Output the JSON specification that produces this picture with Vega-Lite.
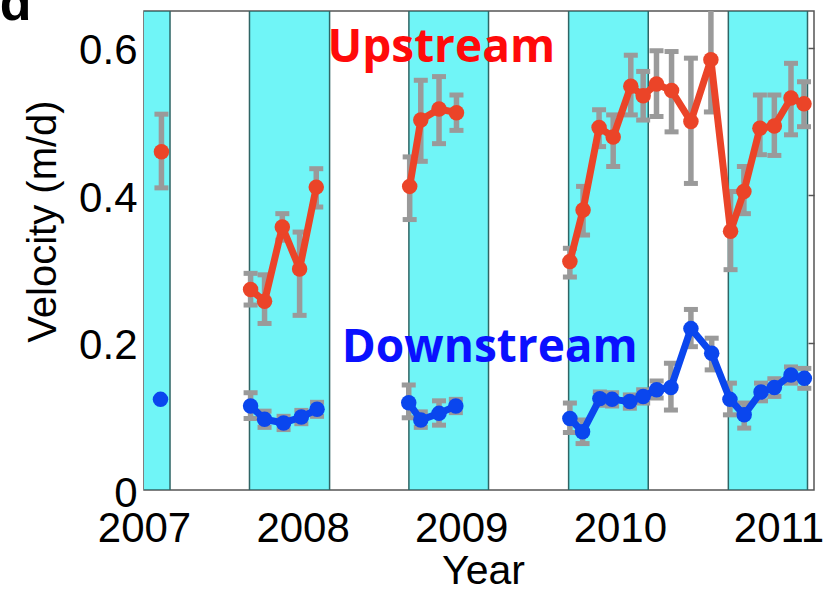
{
  "$schema": "https://vega.github.io/schema/vega-lite/v6.json",
  "width": 670,
  "height": 479,
  "autosize": {"type": "none"},
  "padding": {"left": 144, "top": 11, "right": 15, "bottom": 99},
  "config": {
    "view": {"stroke": "#555555", "strokeWidth": 1.5},
    "axis": {
      "labelFont": "Liberation Sans",
      "titleFont": "Liberation Sans",
      "labelFontSize": 42,
      "titleFontSize": 40,
      "labelColor": "#000000",
      "titleColor": "#000000",
      "titleFontWeight": "normal",
      "grid": false,
      "domain": false,
      "labelFlush": false,
      "labelOverlap": false
    }
  },
  "datasets": {
    "bands": [
      {"s": 2006.667, "e": 2007.164},
      {"s": 2007.665, "e": 2008.17},
      {"s": 2008.67, "e": 2009.172},
      {"s": 2009.677, "e": 2010.179},
      {"s": 2010.684, "e": 2011.183}
    ],
    "vel": [
      {"series": "Upstream", "season": "2007", "t": 2007.110, "v": 0.459, "lo": 0.410, "hi": 0.510},
      {"series": "Upstream", "season": "2008", "t": 2007.672, "v": 0.272, "lo": 0.251, "hi": 0.294},
      {"series": "Upstream", "season": "2008", "t": 2007.760, "v": 0.256, "lo": 0.226, "hi": 0.292},
      {"series": "Upstream", "season": "2008", "t": 2007.872, "v": 0.357, "lo": 0.339, "hi": 0.375},
      {"series": "Upstream", "season": "2008", "t": 2007.981, "v": 0.300, "lo": 0.237, "hi": 0.350},
      {"series": "Upstream", "season": "2008", "t": 2008.086, "v": 0.411, "lo": 0.384, "hi": 0.436},
      {"series": "Upstream", "season": "2009", "t": 2008.675, "v": 0.412, "lo": 0.367, "hi": 0.452},
      {"series": "Upstream", "season": "2009", "t": 2008.745, "v": 0.502, "lo": 0.446, "hi": 0.556},
      {"series": "Upstream", "season": "2009", "t": 2008.860, "v": 0.517, "lo": 0.470, "hi": 0.561},
      {"series": "Upstream", "season": "2009", "t": 2008.970, "v": 0.512, "lo": 0.488, "hi": 0.536},
      {"series": "Upstream", "season": "2010", "t": 2009.685, "v": 0.310, "lo": 0.289, "hi": 0.328},
      {"series": "Upstream", "season": "2010", "t": 2009.768, "v": 0.380, "lo": 0.346, "hi": 0.412},
      {"series": "Upstream", "season": "2010", "t": 2009.869, "v": 0.492, "lo": 0.466, "hi": 0.516},
      {"series": "Upstream", "season": "2010", "t": 2009.958, "v": 0.479, "lo": 0.439, "hi": 0.509},
      {"series": "Upstream", "season": "2010", "t": 2010.069, "v": 0.548, "lo": 0.509, "hi": 0.590},
      {"series": "Upstream", "season": "2010", "t": 2010.147, "v": 0.535, "lo": 0.502, "hi": 0.568},
      {"series": "Upstream", "season": "2010", "t": 2010.231, "v": 0.551, "lo": 0.507, "hi": 0.596},
      {"series": "Upstream", "season": "2010", "t": 2010.326, "v": 0.542, "lo": 0.486, "hi": 0.595},
      {"series": "Upstream", "season": "2010", "t": 2010.448, "v": 0.500, "lo": 0.416, "hi": 0.586},
      {"series": "Upstream", "season": "2010", "t": 2010.574, "v": 0.584, "lo": 0.513, "hi": 0.700},
      {"series": "Upstream", "season": "2010", "t": 2010.698, "v": 0.351, "lo": 0.299, "hi": 0.405},
      {"series": "Upstream", "season": "2010", "t": 2010.782, "v": 0.405, "lo": 0.375, "hi": 0.439},
      {"series": "Upstream", "season": "2010", "t": 2010.883, "v": 0.491, "lo": 0.455, "hi": 0.536},
      {"series": "Upstream", "season": "2010", "t": 2010.974, "v": 0.494, "lo": 0.454, "hi": 0.536},
      {"series": "Upstream", "season": "2010", "t": 2011.079, "v": 0.532, "lo": 0.482, "hi": 0.579},
      {"series": "Upstream", "season": "2010", "t": 2011.161, "v": 0.524, "lo": 0.493, "hi": 0.554},
      {"series": "Downstream", "season": "2007", "t": 2007.104, "v": 0.123},
      {"series": "Downstream", "season": "2008", "t": 2007.672, "v": 0.114, "lo": 0.097, "hi": 0.132},
      {"series": "Downstream", "season": "2008", "t": 2007.760, "v": 0.096, "lo": 0.085, "hi": 0.107},
      {"series": "Downstream", "season": "2008", "t": 2007.880, "v": 0.091, "lo": 0.082, "hi": 0.100},
      {"series": "Downstream", "season": "2008", "t": 2007.992, "v": 0.099, "lo": 0.090, "hi": 0.108},
      {"series": "Downstream", "season": "2008", "t": 2008.091, "v": 0.1095, "lo": 0.100, "hi": 0.119},
      {"series": "Downstream", "season": "2009", "t": 2008.669, "v": 0.1185, "lo": 0.098, "hi": 0.1425},
      {"series": "Downstream", "season": "2009", "t": 2008.745, "v": 0.095, "lo": 0.085, "hi": 0.106},
      {"series": "Downstream", "season": "2009", "t": 2008.860, "v": 0.104, "lo": 0.088, "hi": 0.121},
      {"series": "Downstream", "season": "2009", "t": 2008.966, "v": 0.114, "lo": 0.105, "hi": 0.123},
      {"series": "Downstream", "season": "2010", "t": 2009.685, "v": 0.097, "lo": 0.078, "hi": 0.118},
      {"series": "Downstream", "season": "2010", "t": 2009.765, "v": 0.079, "lo": 0.063, "hi": 0.095},
      {"series": "Downstream", "season": "2010", "t": 2009.874, "v": 0.124, "lo": 0.115, "hi": 0.133},
      {"series": "Downstream", "season": "2010", "t": 2009.951, "v": 0.123, "lo": 0.114, "hi": 0.132},
      {"series": "Downstream", "season": "2010", "t": 2010.063, "v": 0.120, "lo": 0.111, "hi": 0.129},
      {"series": "Downstream", "season": "2010", "t": 2010.147, "v": 0.127, "lo": 0.118, "hi": 0.136},
      {"series": "Downstream", "season": "2010", "t": 2010.232, "v": 0.136, "lo": 0.125, "hi": 0.148},
      {"series": "Downstream", "season": "2010", "t": 2010.322, "v": 0.139, "lo": 0.1085, "hi": 0.172},
      {"series": "Downstream", "season": "2010", "t": 2010.448, "v": 0.219, "lo": 0.1945, "hi": 0.245},
      {"series": "Downstream", "season": "2010", "t": 2010.579, "v": 0.1855, "lo": 0.163, "hi": 0.206},
      {"series": "Downstream", "season": "2010", "t": 2010.694, "v": 0.123, "lo": 0.102, "hi": 0.145},
      {"series": "Downstream", "season": "2010", "t": 2010.784, "v": 0.102, "lo": 0.084, "hi": 0.118},
      {"series": "Downstream", "season": "2010", "t": 2010.890, "v": 0.133, "lo": 0.121, "hi": 0.145},
      {"series": "Downstream", "season": "2010", "t": 2010.974, "v": 0.139, "lo": 0.127, "hi": 0.151},
      {"series": "Downstream", "season": "2010", "t": 2011.079, "v": 0.156, "lo": 0.145, "hi": 0.167},
      {"series": "Downstream", "season": "2010", "t": 2011.163, "v": 0.1515, "lo": 0.138, "hi": 0.165}
    ],
    "labels": [
      {"label": "Upstream", "t": 2008.874, "v": 0.581},
      {"label": "Downstream", "t": 2009.18, "v": 0.1737},
      {"label": "d", "t": 2006.19, "v": 0.638}
    ]
  },
  "resolve": {"axis": {"y": "independent"}},
  "layer": [
    {
      "data": {"name": "bands"},
      "mark": {"type": "rect", "fill": "#70f5f7", "stroke": "#2f6565", "strokeWidth": 1.5, "clip": true},
      "encoding": {
        "x": {
          "field": "s", "type": "quantitative",
          "scale": {"domain": [2007, 2011.224], "nice": false, "zero": false},
          "axis": {
            "values": [2007, 2008, 2009, 2010, 2011],
            "format": "d",
            "title": "Year",
            "ticks": false,
            "tickSize": 0,
            "labelBaseline": "alphabetic",
            "labelPadding": 51,
            "titleBaseline": "alphabetic",
            "titleX": 339,
            "titleY": 93,
            "titleFontSize": 41
          }
        },
        "x2": {"field": "e"}
      }
    },
    {
      "data": {"name": "vel"},
      "transform": [{"filter": "isValid(datum.lo)"}],
      "mark": {"type": "rule", "color": "#9a9a9a", "strokeWidth": 5.5, "clip": true},
      "encoding": {
        "x": {"field": "t", "type": "quantitative"},
        "y": {
          "field": "lo", "type": "quantitative",
          "scale": {"domain": [0, 0.65], "nice": false, "zero": true},
          "axis": {
            "values": [0, 0.2, 0.4, 0.6],
            "format": "~g",
            "title": "Velocity (m/d)",
            "ticks": false,
            "tickSize": 0,
            "labelPadding": 7,
            "labelOffset": 3,
            "titleBaseline": "alphabetic",
            "titleX": -89,
            "titleY": 210
          }
        },
        "y2": {"field": "hi"}
      }
    },
    {
      "data": {"name": "vel"},
      "transform": [{"filter": "isValid(datum.lo)"}],
      "mark": {"type": "tick", "orient": "horizontal", "color": "#9a9a9a", "size": 14, "thickness": 5, "opacity": 1, "clip": true},
      "encoding": {
        "x": {"field": "t", "type": "quantitative"},
        "y": {"field": "lo", "type": "quantitative", "axis": null}
      }
    },
    {
      "data": {"name": "vel"},
      "transform": [{"filter": "isValid(datum.hi)"}],
      "mark": {"type": "tick", "orient": "horizontal", "color": "#9a9a9a", "size": 14, "thickness": 5, "opacity": 1, "clip": true},
      "encoding": {
        "x": {"field": "t", "type": "quantitative"},
        "y": {"field": "hi", "type": "quantitative", "axis": null}
      }
    },
    {
      "data": {"name": "vel"},
      "mark": {"type": "line", "strokeWidth": 7, "strokeJoin": "round", "strokeCap": "round"},
      "encoding": {
        "x": {"field": "t", "type": "quantitative"},
        "y": {"field": "v", "type": "quantitative", "axis": null},
        "color": {"field": "series", "type": "nominal", "scale": {"domain": ["Upstream", "Downstream"], "range": ["#eb4428", "#0a46ee"]}, "legend": null},
        "detail": {"field": "season"}
      }
    },
    {
      "data": {"name": "vel"},
      "mark": {"type": "circle", "size": 240, "opacity": 1},
      "encoding": {
        "x": {"field": "t", "type": "quantitative"},
        "y": {
          "field": "v", "type": "quantitative",
          "axis": {
            "orient": "right",
            "values": [0.2, 0.4, 0.6],
            "labels": false,
            "title": null,
            "ticks": true,
            "tickSize": -6,
            "tickColor": "#555555",
            "tickWidth": 1.5
          }
        },
        "color": {"field": "series", "type": "nominal", "legend": null}
      }
    },
    {
      "data": {"name": "labels"},
      "transform": [{"filter": "datum.label === 'Upstream'"}],
      "mark": {"type": "text", "font": "Open Sans", "fontWeight": "bold", "fontSize": 46, "color": "#ff0a0a", "align": "center", "baseline": "alphabetic"},
      "encoding": {
        "x": {"field": "t", "type": "quantitative"},
        "y": {"field": "v", "type": "quantitative", "axis": null},
        "text": {"field": "label"}
      }
    },
    {
      "data": {"name": "labels"},
      "transform": [{"filter": "datum.label === 'Downstream'"}],
      "mark": {"type": "text", "font": "Open Sans", "fontWeight": "bold", "fontSize": 46, "color": "#0a10ff", "align": "center", "baseline": "alphabetic"},
      "encoding": {
        "x": {"field": "t", "type": "quantitative"},
        "y": {"field": "v", "type": "quantitative", "axis": null},
        "text": {"field": "label"}
      }
    },
    {
      "data": {"name": "labels"},
      "transform": [{"filter": "datum.label === 'd'"}],
      "mark": {"type": "text", "font": "Liberation Sans", "fontWeight": "bold", "fontSize": 52, "color": "#000000", "align": "center", "baseline": "alphabetic", "clip": false},
      "encoding": {
        "x": {"field": "t", "type": "quantitative"},
        "y": {"field": "v", "type": "quantitative", "axis": null},
        "text": {"field": "label"}
      }
    }
  ]
}
